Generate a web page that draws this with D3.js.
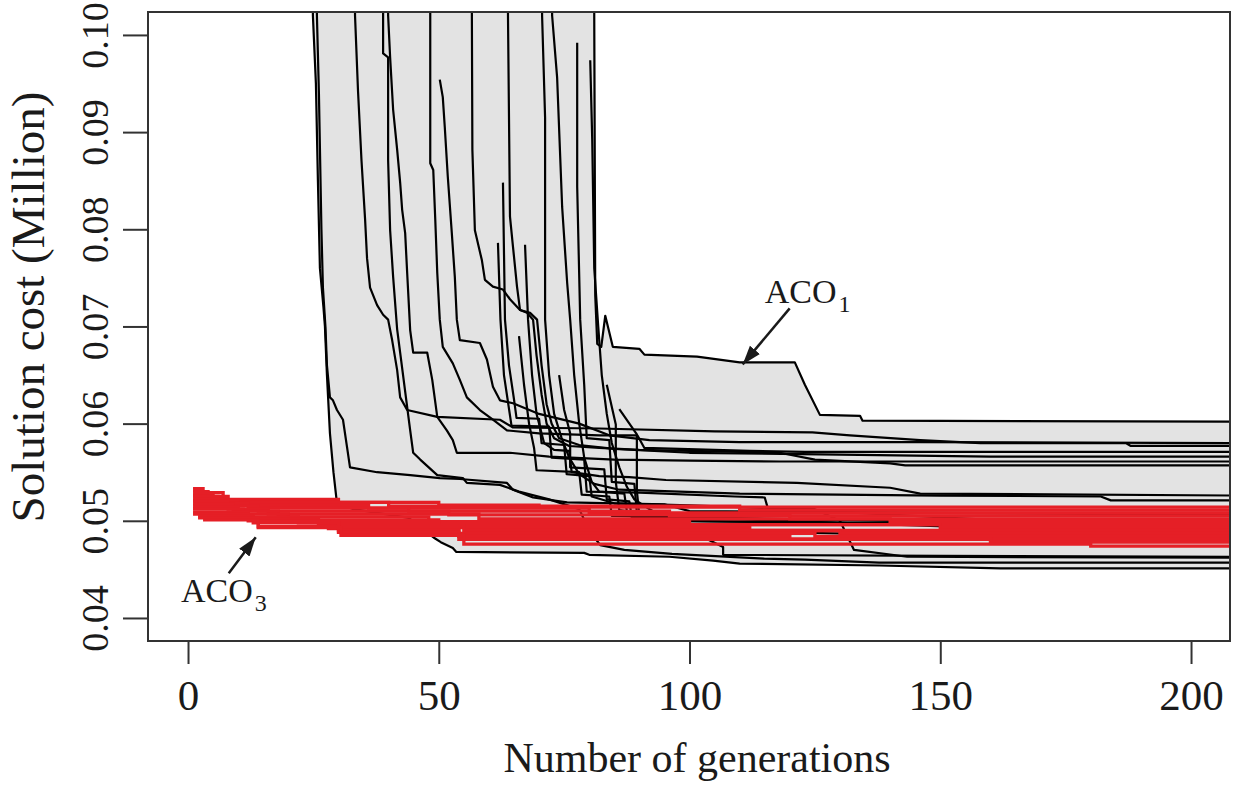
<!DOCTYPE html>
<html>
<head>
<meta charset="utf-8">
<script src="https://cdn.jsdelivr.net/npm/d3@7"></script>
<style>
  body { margin: 0; background: #fff; }
  text { font-family: "Liberation Serif", "Times New Roman", serif; fill: #1a1a1a; }
</style>
</head>
<body>
<svg id="chart" width="1240" height="800"></svg>
<script>
// ---- data: [generation, cost in million] ----
// ACO1 runs (black); a first point at 0.11 means "still above the plot"
var runA = [[24.9,0.11],[24.9,0.1020],[25.5,0.0950],[25.9,0.0850],[26.3,0.0760],[27.0,0.0720],[27.3,0.0700],[27.7,0.0650],[28.3,0.0590],[29.0,0.0550],[29.7,0.0518],[33,0.0512],[44,0.0503],[49.2,0.0482],[50.4,0.0478],[52.8,0.0472],[53.5,0.0468],[79,0.0467],[80,0.0465],[96,0.0463],[104.7,0.0459],[110,0.0456],[137.8,0.0454],[162,0.0451],[208,0.0451]];
var runB = [[25.7,0.11],[25.7,0.1020],[26.1,0.0940],[26.6,0.0800],[26.9,0.0740],[27.4,0.0700],[27.7,0.0660],[28.3,0.0627],[28.9,0.0624],[29.7,0.0614],[30.9,0.0604],[31.7,0.0576],[32.3,0.0555],[37.7,0.0550],[44.3,0.0547],[50.2,0.0544],[54.2,0.0543],[63.6,0.0539],[64.8,0.0532],[68.8,0.0524],[75.6,0.0519],[95,0.0517],[100,0.0510],[208,0.0506]];
var runC = [[33.3,0.11],[33.3,0.1020],[33.9,0.0942],[34.6,0.0870],[35.3,0.0811],[35.7,0.0770],[36.3,0.0740],[37.7,0.0722],[38.9,0.0712],[39.9,0.0707],[40.7,0.0686],[41.7,0.0655],[42.3,0.0627],[43.7,0.0614],[49.7,0.0607],[62.2,0.0604],[64.8,0.0596],[82,0.0595],[105,0.0592],[124.5,0.0591],[132,0.0588],[146,0.0583],[158,0.0580],[187,0.0580],[188,0.0577],[208,0.0577]];
var runD = [[38.9,0.11],[38.9,0.1020],[38.9,0.0981],[39.9,0.0977],[39.9,0.0871],[40.3,0.0799],[40.9,0.0751],[41.7,0.0697],[42.3,0.0673],[43.7,0.0617],[44.3,0.0593],[44.9,0.0570],[46.3,0.0563],[49.7,0.0547],[54.8,0.0544],[55.6,0.0539],[62.2,0.0537],[66,0.0530],[72,0.0522],[78,0.0512],[80,0.0490],[82.2,0.0475],[87,0.0470],[96.5,0.0466],[114.9,0.0461],[123,0.0460],[137.8,0.0457],[208,0.0457]];
var runE = [[39.9,0.11],[39.9,0.1020],[40.3,0.0977],[40.9,0.0923],[41.7,0.0882],[42.3,0.0848],[42.7,0.0820],[43.3,0.0796],[43.7,0.0755],[44.3,0.0696],[44.9,0.0673],[47.7,0.0673],[48.7,0.0645],[49.7,0.0607],[51.6,0.0593],[52.8,0.0583],[53.6,0.0570],[64.2,0.0570],[72,0.0566],[85,0.0563],[100,0.0562],[118,0.0561],[208,0.0561]];
var runF = [[48.3,0.11],[48.3,0.1020],[48.3,0.0868],[48.9,0.0861],[49.3,0.0810],[49.7,0.0755],[50.2,0.0707],[50.8,0.0679],[52.8,0.0662],[54.2,0.0645],[55.6,0.0627],[58.2,0.0614],[60.8,0.0604],[63.6,0.0593],[70,0.0590],[82,0.0588],[89.6,0.0588],[91,0.0575],[112,0.0572],[123,0.0571],[208,0.0571]];
var runG = [[50.2,0.0954],[50.8,0.0936],[51.2,0.0905],[51.8,0.0854],[52.6,0.0796],[53.2,0.0751],[53.6,0.0707],[54.2,0.0686],[58.2,0.0683],[59.6,0.0666],[60.8,0.0638],[62.2,0.0624],[64.8,0.0621],[70,0.0610],[78,0.0600],[84,0.0588],[92,0.0583],[110,0.0581],[146,0.0581],[208,0.0580]];
var runH = [[56.6,0.11],[56.6,0.1020],[56.7,0.0882],[57.2,0.0799],[58.6,0.0768],[59.2,0.0748],[60.8,0.0741],[62.8,0.0738],[64.2,0.0728],[66.2,0.0717],[68.2,0.0714],[69.6,0.0707],[70.5,0.0660],[71.5,0.0620],[72.5,0.0600],[74,0.0585],[78,0.0578],[85,0.0574],[100,0.0570],[130,0.0568],[160,0.0566],[208,0.0566]];
var runI = [[63.8,0.11],[63.8,0.1020],[64.2,0.0813],[64.8,0.0782],[65.6,0.0741],[66.2,0.0717],[67.6,0.0714],[68.8,0.0707],[69.5,0.0670],[70.5,0.0630],[71.5,0.0600],[73,0.0585],[76,0.0577],[82,0.0575],[90,0.0573],[100,0.0572],[118,0.0570],[125,0.0563],[140,0.0559],[143,0.0557],[208,0.0557]];
var runJ = [[62.8,0.0848],[63.2,0.0707],[64,0.0660],[65,0.0625],[65.5,0.0606],[70,0.0605],[70.5,0.0580],[75,0.0578],[75.5,0.0548],[80,0.0546],[80.5,0.0525],[85,0.0518],[100,0.0516],[110,0.0514],[125,0.0512],[130,0.0500],[132.8,0.0470],[143.4,0.0463],[208,0.0462]];
var runK = [[61.8,0.0786],[62.3,0.0707],[63,0.0650],[64.5,0.0598],[72,0.0597],[72.5,0.0565],[79,0.0563],[79.5,0.0530],[90,0.0529],[109,0.0525],[115,0.0524],[115.6,0.0513],[208,0.0488]];
var runL = [[67.2,0.0784],[67.8,0.0707],[68.6,0.0650],[69.5,0.0610],[71,0.0580],[73,0.0573],[76,0.0572],[76.5,0.0550],[82,0.0546],[88,0.0545],[95.3,0.0542],[121.4,0.0539],[140,0.0534],[146,0.0528],[208,0.0526]];
var runM = [[70.6,0.11],[70.6,0.1020],[71.2,0.0915],[71.2,0.0707],[72,0.0650],[73,0.0610],[74.5,0.0585],[76,0.0565],[78,0.0548],[81,0.0538],[86,0.0532],[110,0.0528],[150,0.0526],[182,0.0525],[184,0.0521],[208,0.0521]];
var runN = [[72.6,0.11],[72.6,0.1020],[73.6,0.0956],[74.6,0.0823],[75.6,0.0745],[76.2,0.0707],[77,0.0650],[78,0.0600],[79,0.0565],[80.5,0.0540],[82,0.0530],[87,0.0528],[87.5,0.0510],[90,0.0500],[208,0.0495]];
var runO = [[77.6,0.0992],[77.6,0.0844],[78.2,0.0707],[79,0.0640],[79.5,0.0585],[84,0.0583],[84.5,0.0540],[89,0.0538],[89.5,0.0508],[100,0.0490],[208,0.0479]];
var runP = [[80.2,0.0974],[80.6,0.0892],[81,0.0760],[81.8,0.0700],[82.5,0.0650],[83.5,0.0610],[84.5,0.0580],[86,0.0555],[87.5,0.0535],[89,0.0522],[92,0.0512],[100,0.0490],[106.7,0.0473],[106.7,0.0465],[150,0.0464],[208,0.0463]];
var runQ = [[83.5,0.0640],[85.3,0.0599],[85.3,0.0540],[86,0.0511],[100,0.0500],[208,0.0492]];
var runS = [[86,0.0615],[89.5,0.0589],[89.5,0.0531],[90,0.0505],[208,0.0484]];
var runT = [[74,0.0650],[75,0.0614],[76.2,0.0590],[76.2,0.0555],[83,0.0553],[83.5,0.0522],[88,0.0520],[88.5,0.0503],[208,0.0497]];
var runU = [[66,0.0690],[67,0.0640],[68,0.0600],[69,0.0575],[69.5,0.0552],[78,0.0550],[78.5,0.0527],[84,0.0525],[84.5,0.0505],[208,0.0494]];
var runR = [[81,0.11],[81,0.1020],[81.2,0.0732],[81.6,0.0682],[82.4,0.0679],[83.2,0.0711],[84.7,0.0679],[90,0.0677],[91,0.0671],[101.5,0.0669],[110,0.0663],[121,0.0663],[123,0.0640],[126,0.0609],[134,0.0608],[134.5,0.0603],[208,0.0602]];

var aco1Runs = [runA, runB, runC, runD, runE, runF, runG, runH, runI, runJ, runK, runL, runM, runN, runO, runP, runQ, runS, runT, runU, runR];

// ACO3 runs (red), stepwise
var red01 = [[1,0.0533],[3,0.0529],[7,0.0522],[30,0.0519],[50,0.0516],[70,0.0514],[208,0.0513]];
var red02 = [[1,0.0530],[4,0.0525],[8,0.0519],[40,0.0515],[110,0.0511],[208,0.0510]];
var red03 = [[1,0.0527],[5,0.0521],[10,0.0516],[36,0.0513],[80,0.0508],[208,0.0507]];
var red04 = [[1,0.0525],[6,0.0518],[12,0.0513],[44,0.0510],[96,0.0505],[208,0.0504]];
var red05 = [[1,0.0522],[7,0.0515],[14,0.0510],[52,0.0506],[120,0.0502],[208,0.0501]];
var red06 = [[1,0.0520],[8,0.0512],[16,0.0507],[58,0.0502],[140,0.0499],[208,0.0498]];
var red07 = [[1,0.0517],[9,0.0510],[18,0.0504],[48,0.0499],[100,0.0496],[208,0.0495]];
var red08 = [[1,0.0514],[10,0.0507],[20,0.0501],[50,0.0496],[150,0.0493],[208,0.0492]];
var red09 = [[1,0.0512],[11,0.0504],[22,0.0498],[50,0.0493],[112,0.0490],[208,0.0489]];
var red10 = [[1,0.0509],[12,0.0502],[26,0.0495],[55,0.0490],[130,0.0487],[208,0.0486]];
var red11 = [[1,0.0507],[12,0.0500],[28,0.0492],[54,0.0487],[125,0.0484],[208,0.0483]];
var red12 = [[2,0.0505],[13,0.0498],[30,0.0490],[54,0.0484],[120,0.0481],[208,0.0480]];
var red13 = [[2,0.0503],[14,0.0494],[30,0.0488],[54,0.0481],[160,0.0478],[208,0.0477]];
var red14 = [[3,0.0501],[14,0.0493],[30.5,0.0485],[55,0.0476],[180,0.0474],[208,0.0474]];

var aco3Runs = [red01, red02, red03, red04, red05, red06, red07, red08, red09, red10, red11, red12, red13, red14];

var xTicks = [0, 50, 100, 150, 200];
var yTicks = [0.04, 0.05, 0.06, 0.07, 0.08, 0.09, 0.10];

(function () {
    // ---- layout ----
    var plotLeft = 148, plotRight = 1230, plotTop = 12, plotBottom = 641;
    var svg = d3.select("#chart");

    var x = d3.scaleLinear().domain([-7.98, 207.77]).range([plotLeft, plotRight]);
    var y = d3.scaleLinear().domain([0.03763, 0.10236]).range([plotBottom, plotTop]);

    var defs = svg.append("defs");
    defs.append("clipPath").attr("id", "plot")
        .append("rect").attr("x", plotLeft).attr("y", plotTop)
        .attr("width", plotRight - plotLeft).attr("height", plotBottom - plotTop);

    // value of one run at generation g (linear between points);
    // runs entering from above count as off-chart before they start,
    // runs that first appear mid-chart are ignored before they start
    function valueAt(run, g) {
        if (g < run[0][0]) return run[0][1] > 0.1 ? 0.11 : NaN;
        for (var i = 1; i < run.length; i++) {
            if (g <= run[i][0]) {
                var a = run[i - 1], b = run[i];
                if (b[0] === a[0]) return b[1];
                return a[1] + (b[1] - a[1]) * (g - a[0]) / (b[0] - a[0]);
            }
        }
        return run[run.length - 1][1];
    }

    var grid = d3.range(0, 208.01, 0.2).map(function (g) {
        var vals = aco1Runs.map(function (r) { return valueAt(r, g); });
        return { g: g, lo: d3.min(vals), hi: d3.max(vals) };
    });

    var plot = svg.append("g").attr("clip-path", "url(#plot)");

    plot.append("path")
        .datum(grid)
        .attr("fill", "#e3e3e3")
        .attr("d", d3.area()
            .x(function (d) { return x(d.g); })
            .y0(function (d) { return y(d.lo); })
            .y1(function (d) { return y(d.hi); }));

    var blackLine = d3.line()
        .x(function (d) { return x(d[0]); })
        .y(function (d) { return y(d[1]); });

    plot.selectAll(".aco1")
        .data(aco1Runs)
        .enter()
        .append("path")
        .attr("class", "aco1")
        .attr("fill", "none")
        .attr("stroke", "#000")
        .attr("stroke-width", 2.2)
        .attr("stroke-linejoin", "round")
        .attr("d", blackLine);

    var redLine = d3.line()
        .curve(d3.curveStepAfter)
        .x(function (d) { return x(d[0]); })
        .y(function (d) { return y(d[1]); });

    plot.selectAll(".aco3")
        .data(aco3Runs)
        .enter()
        .append("path")
        .attr("class", "aco3")
        .attr("fill", "none")
        .attr("stroke", "#e51f26")
        .attr("stroke-width", 3.3)
        .attr("d", redLine);

    // frame
    svg.append("rect")
        .attr("x", plotLeft).attr("y", plotTop)
        .attr("width", plotRight - plotLeft).attr("height", plotBottom - plotTop)
        .attr("fill", "none").attr("stroke", "#333").attr("stroke-width", 2);

    // axes
    var yAxis = svg.append("g")
        .attr("transform", "translate(" + plotLeft + ",0)")
        .call(d3.axisLeft(y).tickValues(yTicks).tickSize(25).tickFormat(d3.format(".2f")));
    yAxis.select(".domain").remove();
    yAxis.selectAll(".tick line").attr("stroke", "#333").attr("stroke-width", 2);
    yAxis.selectAll(".tick text")
        .attr("x", 0).attr("y", 0).attr("dy", 0)
        .attr("transform", "translate(-40,0) rotate(-90)")
        .attr("text-anchor", "middle")
        .style("font-family", "'Liberation Serif', serif")
        .style("font-size", "38px")
        .style("fill", "#1a1a1a");

    var xAxis = svg.append("g")
        .attr("transform", "translate(0," + plotBottom + ")")
        .call(d3.axisBottom(x).tickValues(xTicks).tickSize(23));
    xAxis.select(".domain").remove();
    xAxis.selectAll(".tick line").attr("stroke", "#333").attr("stroke-width", 2);
    xAxis.selectAll(".tick text")
        .attr("y", 69).attr("dy", 0)
        .style("font-family", "'Liberation Serif', serif")
        .style("font-size", "43px")
        .style("fill", "#1a1a1a");

    // titles
    svg.append("text")
        .attr("x", 697).attr("y", 772)
        .attr("text-anchor", "middle")
        .style("font-size", "42px")
        .text("Number of generations");

    svg.append("text")
        .attr("transform", "translate(44,307) rotate(-90)")
        .attr("text-anchor", "middle")
        .style("font-size", "47px")
        .text("Solution cost (Million)");

    // annotations
    defs.append("marker")
        .attr("id", "head")
        .attr("markerUnits", "userSpaceOnUse")
        .attr("markerWidth", 20).attr("markerHeight", 16)
        .attr("refX", 19).attr("refY", 8)
        .attr("orient", "auto")
        .append("path").attr("d", "M0,1.5 L19,8 L0,14.5 z").attr("fill", "#1a1a1a");

    var tip1 = [x(110.6), y(0.0663) + 2];
    svg.append("line")
        .attr("x1", tip1[0] + 47).attr("y1", tip1[1] - 56)
        .attr("x2", tip1[0]).attr("y2", tip1[1])
        .attr("stroke", "#1a1a1a").attr("stroke-width", 2.5)
        .attr("marker-end", "url(#head)");
    var lab1 = svg.append("text").attr("x", tip1[0] + 22).attr("y", tip1[1] - 61).style("font-size", "34px");
    lab1.append("tspan").text("ACO");
    lab1.append("tspan").attr("dy", 9).attr("dx", 2).style("font-size", "24px").text("1");

    var tip3 = [x(13.5), y(0.0485) + 2];
    svg.append("line")
        .attr("x1", tip3[0] - 27).attr("y1", tip3[1] + 36)
        .attr("x2", tip3[0]).attr("y2", tip3[1])
        .attr("stroke", "#1a1a1a").attr("stroke-width", 2.5)
        .attr("marker-end", "url(#head)");
    var lab3 = svg.append("text").attr("x", 181).attr("y", 602).style("font-size", "34px");
    lab3.append("tspan").text("ACO");
    lab3.append("tspan").attr("dy", 9).attr("dx", 2).style("font-size", "24px").text("3");
})();
</script>
</body>
</html>
